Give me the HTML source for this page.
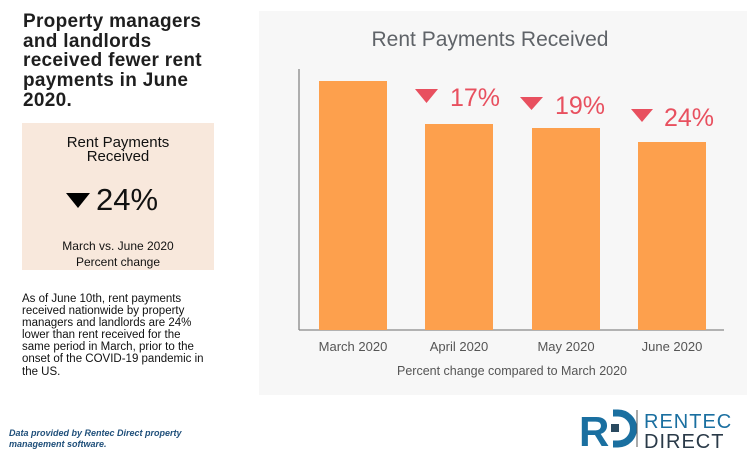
<!DOCTYPE html>
<html><head><meta charset="utf-8"><style>
body{margin:0;width:756px;height:464px;background:#fff;position:relative;overflow:hidden;font-family:"Liberation Sans",sans-serif}
.a{position:absolute}
h1{position:absolute;left:23px;top:12px;margin:0;font-size:19px;line-height:19.7px;font-weight:bold;color:#1e1e1e;width:240px;letter-spacing:0.3px;white-space:nowrap}
.box{left:22px;top:123px;width:192px;height:147px;background:#f8e8dc;text-align:center;color:#111}
.p{left:22px;top:293px;width:240px;font-size:11.5px;line-height:12.1px;color:#111;white-space:nowrap}
.foot{left:9px;top:428px;font-size:9px;line-height:11px;font-style:italic;font-weight:bold;color:#1f4f7a}
</style></head><body>
<h1>Property managers<br>and landlords<br>received fewer rent<br>payments in June<br>2020.</h1>
<div class="a box">
 <div class="a" style="left:0;right:0;top:13px;font-size:15px;line-height:14px">Rent Payments<br>Received</div>
 <div class="a" style="left:44px;top:70px;width:0;height:0;border-left:12px solid transparent;border-right:12px solid transparent;border-top:15px solid #000"></div>
 <div class="a" style="left:74px;top:60px;font-size:31px;line-height:34px">24%</div>
 <div class="a" style="left:0;right:0;top:115px;font-size:12px;line-height:16px">March vs. June 2020<br>Percent change</div>
</div>
<div class="a p">As of June 10th, rent payments<br>received nationwide by property<br>managers and landlords are 24%<br>lower than rent received for the<br>same period in March, prior to the<br>onset of the COVID-19 pandemic in<br>the US.</div>
<div class="a foot">Data provided by Rentec Direct property<br>management software.</div>
<svg class="a" style="left:0;top:0" width="756" height="464">
 <rect x="259" y="11" width="488" height="384" fill="#f7f7f7"/>
 <text x="490" y="46" font-size="21" fill="#5f6368" text-anchor="middle" font-family="Liberation Sans">Rent Payments Received</text>
 <line x1="299" y1="69" x2="299" y2="330" stroke="#666" stroke-width="1"/>
 <line x1="299" y1="330" x2="724" y2="330" stroke="#888" stroke-width="1.2"/>
 <g fill="#fda04d">
  <rect x="319" y="81" width="68" height="249"/>
  <rect x="425" y="124" width="68" height="206"/>
  <rect x="532" y="128" width="68" height="202"/>
  <rect x="638" y="142" width="68" height="188"/>
 </g>
 <g fill="#e8505f">
  <polygon points="415,89 438,89 426.5,103"/>
  <polygon points="520,97 543,97 531.5,110"/>
  <polygon points="631,109 653,109 642,122"/>
 </g>
 <g fill="#e8505f" font-size="25" font-family="Liberation Sans">
  <text x="450" y="106">17%</text>
  <text x="555" y="114">19%</text>
  <text x="664" y="126">24%</text>
 </g>
 <g fill="#555" font-size="13" text-anchor="middle" font-family="Liberation Sans">
  <text x="353" y="351">March 2020</text>
  <text x="459" y="351">April 2020</text>
  <text x="566" y="351">May 2020</text>
  <text x="672" y="351">June 2020</text>
  <text x="512" y="375" font-size="12.5">Percent change compared to March 2020</text>
 </g>
 <g>
  <text x="579" y="446" font-size="42" font-weight="bold" fill="#1a6fa0" font-family="Liberation Sans">R</text>
  <path d="M613 413 h5 a15.5 15.5 0 0 1 0 31 h-5" fill="none" stroke="#1a6fa0" stroke-width="7"/>
  <rect x="611" y="424" width="8" height="8" fill="#2a4a60"/>
  <line x1="637" y1="410" x2="637" y2="447" stroke="#555" stroke-width="1"/>
  <text x="644" y="428" font-size="20" fill="#1a6fa0" font-family="Liberation Sans" letter-spacing="1">RENTEC</text>
  <text x="644" y="448" font-size="20" fill="#2a3a48" font-family="Liberation Sans" letter-spacing="1">DIRECT</text>
 </g>
</svg>
</body></html>
